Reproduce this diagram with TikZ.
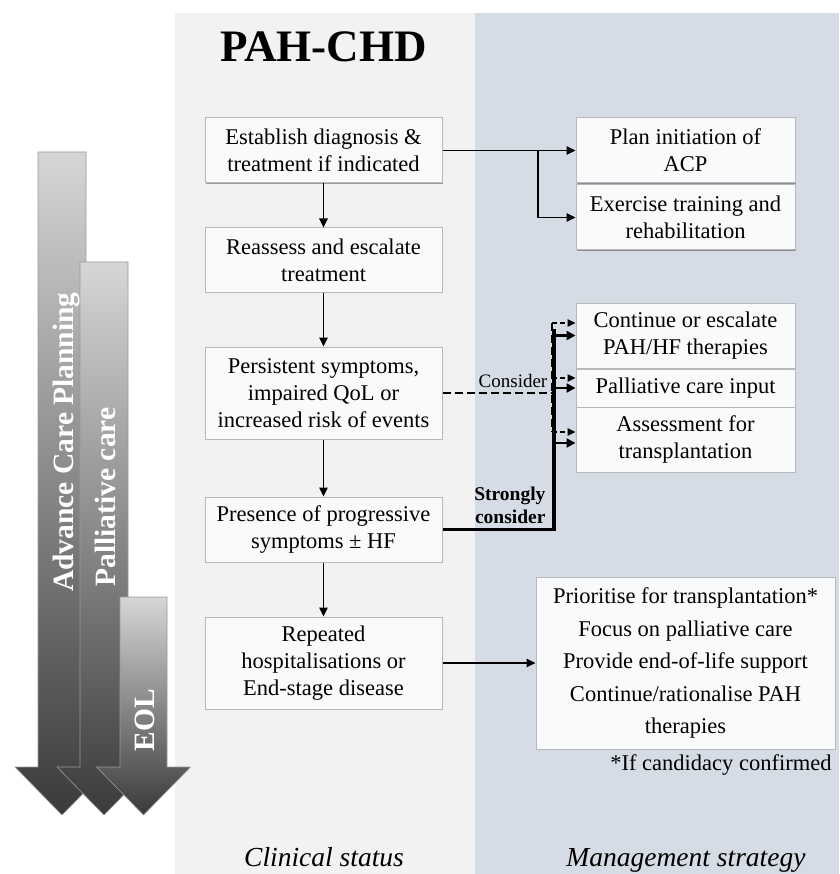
\documentclass[tikz,border=0pt]{standalone}
\usepackage{fontspec}
\setmainfont{Liberation Serif}
\usetikzlibrary{arrows.meta,shadows}
\definecolor{leftbg}{HTML}{F2F2F2}
\definecolor{rightbg}{HTML}{D6DCE5}
\definecolor{boxfill}{HTML}{F9FAFB}
\definecolor{arrtop}{HTML}{D6D6D6}
\definecolor{arrbot}{HTML}{3A3A3A}
\begin{document}
\begin{tikzpicture}[x=1pt,y=-1pt,
  box/.style={draw=black!28, line width=1pt, fill=boxfill, align=center, inner sep=0pt,
    font=\fontsize{22.5}{27}\selectfont,
    drop shadow={shadow xshift=1.3pt, shadow yshift=-1.3pt, opacity=0.35, fill=black}},
  lbox/.style={box, minimum width=237pt},
  rbox/.style={box, minimum width=219pt},
  arr/.style={line width=1.6pt, -{Triangle[length=9pt,width=8.5pt]}},
  dsh/.style={line width=1.8pt, dash pattern=on 8pt off 4pt},
  dsharr/.style={line width=1.6pt, dash pattern=on 5pt off 3pt, -{Triangle[length=8pt,width=7.5pt]}},
  thk/.style={line width=3.5pt},
  thkarr/.style={line width=2.6pt, -{Triangle[length=9pt,width=9pt]}},
  bigarrow/.style={top color=arrtop, bottom color=arrbot, draw=black!40, line width=0.6pt},
  arrlabel/.style={rotate=90, anchor=base, text=white, font=\bfseries\fontsize{29.5}{30}\selectfont}
]
\useasboundingbox (0,0) rectangle (839,874);
% panels
\fill[leftbg] (175,13) rectangle (475,874);
\fill[rightbg] (475,13) rectangle (839,874);

% left big arrows
\shade[bigarrow] (38,152) -- (86,152) -- (86,767) -- (109,767) -- (62,815) -- (15,767) -- (38,767) -- cycle;
\shade[bigarrow] (80,262) -- (128,262) -- (128,767) -- (151,767) -- (104,815) -- (57,767) -- (80,767) -- cycle;
\shade[bigarrow] (120,597) -- (167,597) -- (167,767) -- (190.5,767) -- (143.5,815) -- (96.5,767) -- (120,767) -- cycle;
\node[arrlabel] (tacp) at (73,442) {Advance Care Planning};
\node[arrlabel] (tpal) at (115,497) {Palliative care};
\node[arrlabel] (teol) at (154,720) {EOL};

% title
\node[anchor=base, font=\bfseries\fontsize{45}{50}\selectfont] (title) at (323.5,62) {PAH-CHD};

% left column
\node[lbox, minimum height=65pt] (b1) at (323.5,150.5) {Establish diagnosis \&\\treatment if indicated};
\node[lbox, minimum height=64pt] (b2) at (323.5,260) {Reassess and escalate\\treatment};
\node[lbox, minimum height=92pt] (b3) at (323.5,393) {Persistent symptoms,\\impaired QoL or\\increased risk of events};
\node[lbox, minimum height=65pt] (b4) at (323.5,529.5) {Presence of progressive\\symptoms ± HF};
\node[lbox, minimum height=92pt] (b5) at (323.5,663) {Repeated\\hospitalisations or\\End-stage disease};

% right column
\node[rbox, minimum height=65pt] (r1) at (685.5,150.5) {Plan initiation of\\ACP};
\node[rbox, minimum height=65pt] (r2) at (685.5,217.5) {Exercise training and\\rehabilitation};
\node[rbox, minimum height=65pt] (r3) at (685.5,335.5) {Continue or escalate\\PAH/HF therapies};
\node[rbox, minimum height=38pt] (r4) at (685.5,388) {Palliative care input};
\node[rbox, minimum height=65pt] (r5) at (685.5,439.5) {Assessment for\\transplantation};
\node[box, minimum width=299pt, minimum height=172pt, font=\fontsize{22.5}{32.5}\selectfont] (big) at (685.5,663)
  {Prioritise for transplantation*\\Focus on palliative care\\Provide end-of-life support\\Continue/rationalise PAH\\therapies};
\node[anchor=base east, font=\fontsize{22.5}{27}\selectfont] (foot) at (835,770) {*If candidacy confirmed};

% vertical flow
\draw[arr] (b1.south) -- (b2.north);
\draw[arr] (b2.south) -- (b3.north);
\draw[arr] (b3.south) -- (b4.north);
\draw[arr] (b4.south) -- (b5.north);

% top branch
\draw[arr] (b1.east) -- (r1.west);
\coordinate (j1) at (538,150.5);
\draw[arr] (j1) |- (r2.west);

% consider (dashed)
\coordinate (dv) at (552,393);
\coordinate (dtop) at (552,323);
\coordinate (dmid) at (552,378);
\coordinate (dbot) at (552,432);
\draw[dsh] (b3.east) -- (dv);
\draw[dsh] (dtop) -- (dbot);
\draw[dsharr] (dtop) -- (dtop -| r3.west);
\draw[dsharr] (dmid) -- (dmid -| r4.west);
\draw[dsharr] (dbot) -- (dbot -| r5.west);
\node[anchor=base, font=\fontsize{19}{22}\selectfont] (consider) at (513,387) {Consider};

% strongly consider (thick)
\coordinate (tv) at (554,529.5);
\coordinate (ttop) at (554,329);
\coordinate (s1) at (554,335.5);
\coordinate (s2) at (554,388);
\coordinate (s3) at (554,443);
\draw[thk] (b4.east) -- (tv) -- (ttop);
\draw[thkarr] (s1) -- (s1 -| r3.west);
\draw[thkarr] (s2) -- (s2 -| r4.west);
\draw[thkarr] (s3) -- (s3 -| r5.west);
\node[anchor=base east, align=right, font=\bfseries\fontsize{19.5}{23}\selectfont] (strong) at (549,523) {Strongly\\consider};

% bottom branch
\draw[arr] (b5.east) -- (big.west);

% captions
\node[anchor=base, font=\itshape\fontsize{27.5}{30}\selectfont] (cs) at (324,866) {Clinical status};
\node[anchor=base, font=\itshape\fontsize{27.5}{30}\selectfont] (ms) at (686,866) {Management strategy};
\end{tikzpicture}
\end{document}
